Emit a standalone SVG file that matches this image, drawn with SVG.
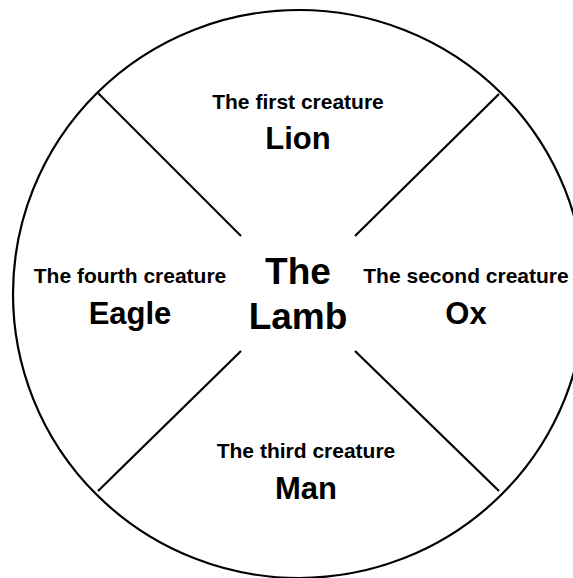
<svg xmlns="http://www.w3.org/2000/svg" width="573" height="578" viewBox="0 0 573 578">
<style>
.ln{stroke:#000;stroke-width:2.2;fill:none}
.t{font-family:"Liberation Sans",Arial,sans-serif;font-weight:bold;fill:#000;text-anchor:middle}
.s{font-size:21px}
.b{font-size:31px}
.c{font-size:37px}
</style>
<rect width="573" height="578" fill="#fff"/>
<g id="circle"><ellipse class="ln" cx="299" cy="294" rx="286" ry="284"/></g>
<g id="connectors">
<line class="ln" x1="98" y1="93" x2="241" y2="236"/>
<line class="ln" x1="499" y1="94" x2="355" y2="236"/>
<line class="ln" x1="241" y1="351" x2="98" y2="491"/>
<line class="ln" x1="355" y1="351" x2="499" y2="491"/>
</g>
<g id="lion"><text class="t s" x="298" y="109">The first creature</text><text class="t b" x="298" y="149">Lion</text></g>
<g id="ox"><text class="t s" x="466" y="283">The second creature</text><text class="t b" x="466" y="324">Ox</text></g>
<g id="man"><text class="t s" x="306" y="458">The third creature</text><text class="t b" x="306" y="499">Man</text></g>
<g id="eagle"><text class="t s" x="130" y="283">The fourth creature</text><text class="t b" x="130" y="324">Eagle</text></g>
<g id="lamb"><text class="t c" x="298" y="284">The</text><text class="t c" x="298" y="329">Lamb</text></g>
</svg>
